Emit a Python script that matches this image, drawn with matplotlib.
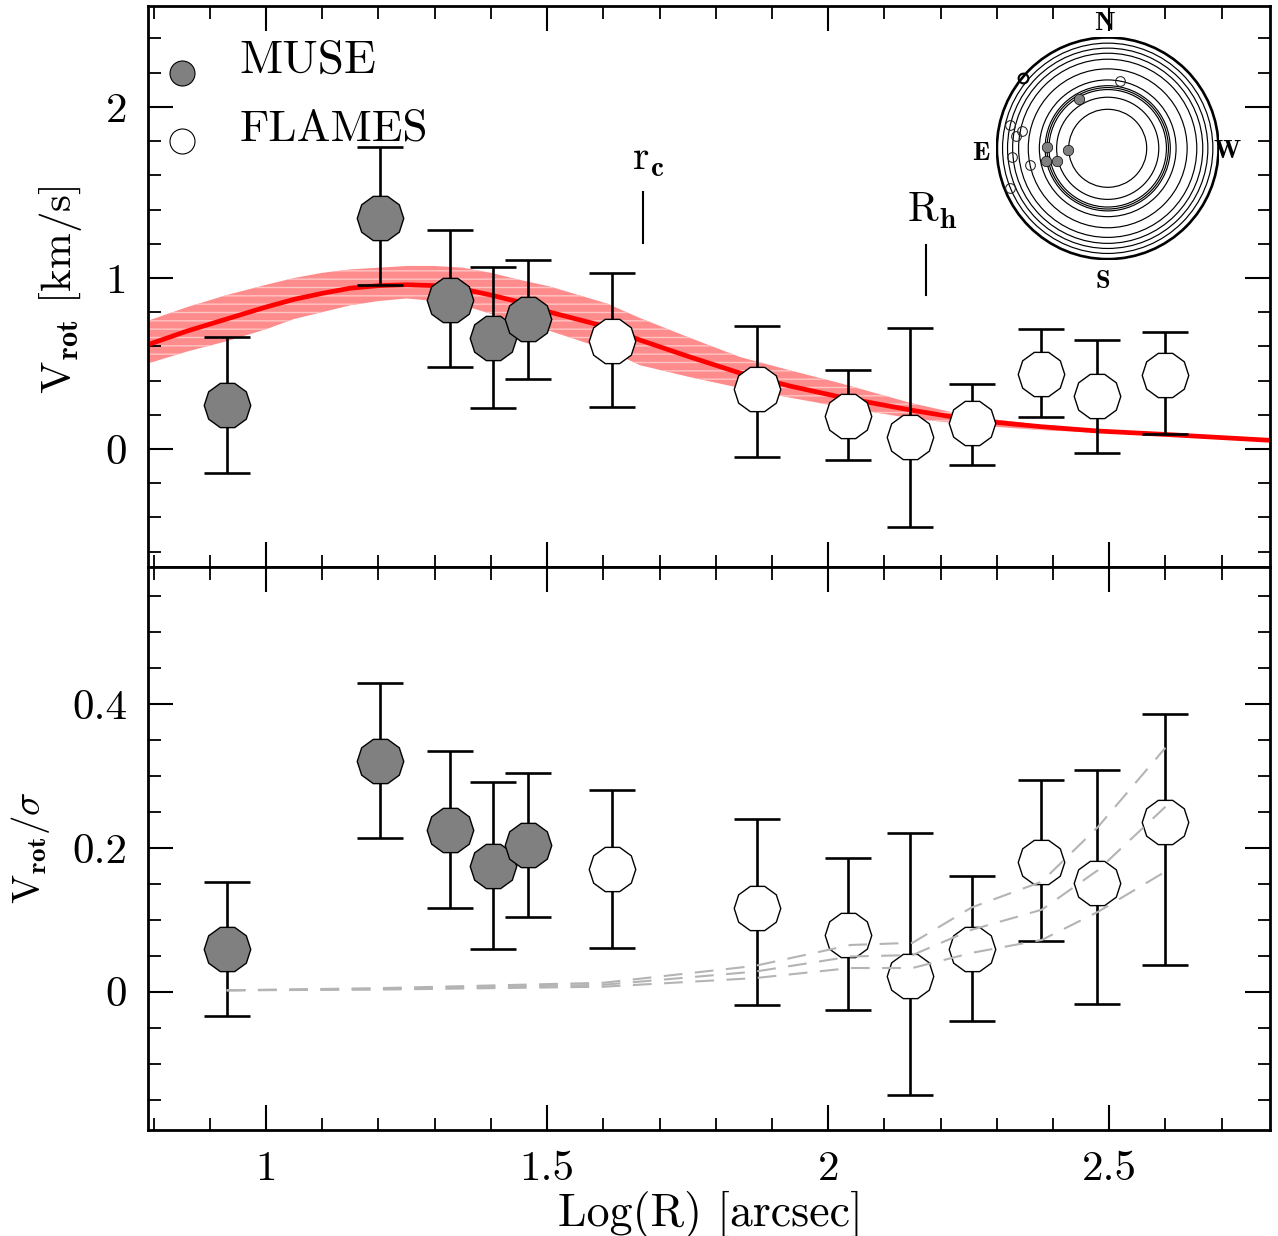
import warnings, logging
import matplotlib
matplotlib.use("Agg")
import matplotlib.pyplot as plt
from matplotlib.ticker import MultipleLocator
from matplotlib.patches import Circle
logging.getLogger('matplotlib.mathtext').setLevel(logging.ERROR)
warnings.filterwarnings("ignore")

plt.rcParams['font.family'] = ['cmr10', 'DejaVu Serif']
plt.rcParams['mathtext.fontset'] = 'cm'
plt.rcParams['axes.formatter.use_mathtext'] = True
plt.rcParams['axes.unicode_minus'] = False
plt.rcParams['hatch.linewidth'] = 1.0

# ---- data ----
log_r = [0.931, 1.203, 1.327, 1.404, 1.466, 1.616, 1.874, 2.036, 2.146, 2.255, 2.379, 2.479, 2.600]
n_muse = 5

vrot = [0.26, 1.35, 0.87, 0.65, 0.76, 0.63, 0.35, 0.19, 0.07, 0.15, 0.44, 0.31, 0.43]
vrot_hi = [0.655, 1.766, 1.28, 1.064, 1.105, 1.03, 0.72, 0.46, 0.708, 0.38, 0.70, 0.637, 0.684]
vrot_lo = [-0.14, 0.96, 0.48, 0.24, 0.41, 0.245, -0.047, -0.064, -0.456, -0.094, 0.187, -0.023, 0.088]

ratio = [0.06, 0.32, 0.225, 0.174, 0.204, 0.17, 0.117, 0.079, 0.022, 0.06, 0.18, 0.151, 0.236]
ratio_hi = [0.153, 0.429, 0.335, 0.292, 0.304, 0.28, 0.24, 0.186, 0.221, 0.161, 0.294, 0.308, 0.386]
ratio_lo = [-0.033, 0.214, 0.117, 0.06, 0.104, 0.061, -0.018, -0.026, -0.143, -0.04, 0.071, -0.017, 0.0375]

model_x = [0.79, 0.86, 0.93, 1.00, 1.05, 1.10, 1.15, 1.20, 1.25, 1.30, 1.35, 1.40, 1.45, 1.505,
           1.607, 1.665, 1.754, 1.843, 1.932, 2.021, 2.146, 2.254, 2.38, 2.48, 2.60, 2.79]
model_y = [0.61, 0.69, 0.76, 0.83, 0.875, 0.91, 0.94, 0.955, 0.96, 0.955, 0.935, 0.90, 0.86, 0.80,
           0.713, 0.637, 0.538, 0.444, 0.368, 0.304, 0.228, 0.17, 0.13, 0.105, 0.085, 0.05]
model_up = [0.75, 0.83, 0.90, 0.96, 1.00, 1.03, 1.05, 1.06, 1.07, 1.07, 1.06, 1.03, 0.99, 0.95,
            0.85, 0.766, 0.65, 0.538, 0.46, 0.385, 0.27, 0.19, 0.14, 0.115, 0.09, 0.055]
model_dn = [0.50, 0.57, 0.63, 0.70, 0.76, 0.80, 0.84, 0.865, 0.88, 0.865, 0.84, 0.79, 0.74, 0.69,
            0.58, 0.49, 0.42, 0.357, 0.30, 0.247, 0.18, 0.14, 0.11, 0.095, 0.075, 0.045]

dash_x = [0.93, 1.20, 1.60, 1.87, 2.04, 2.15, 2.255, 2.38, 2.48, 2.60]
dash_a = [0.002, 0.005, 0.0125, 0.036, 0.065, 0.068, 0.117, 0.153, 0.229, 0.339]
dash_b = [0.002, 0.004, 0.0097, 0.028, 0.049, 0.051, 0.086, 0.114, 0.169, 0.257]
dash_c = [0.002, 0.003, 0.007, 0.019, 0.033, 0.033, 0.054, 0.072, 0.111, 0.167]

ring_radii = [0.352, 0.461, 0.530, 0.548, 0.565, 0.617, 0.717, 0.804, 0.858, 0.904, 0.949, 1.0]
map_muse_x = [-0.545, -0.557, -0.455, -0.355, -0.262]
map_muse_y = [0.015, -0.111, -0.117, -0.018, 0.449]
map_flames_x = [0.108, -0.883, -0.774, -0.825, -0.864, -0.705, -0.883]
map_flames_y = [0.608, 0.214, 0.160, 0.111, -0.075, -0.154, -0.355]
map_ref_x = [-0.765]
map_ref_y = [0.636]

W, H = 1278, 1236
GREY = '#808080'
fig = plt.figure(figsize=(W / 100, H / 100), dpi=100, facecolor='white')


def axes_px(x0, y0, x1, y1):
    return fig.add_axes([x0 / W, 1 - y1 / H, (x1 - x0) / W, (y1 - y0) / H])


ax1 = axes_px(148, 6, 1270, 567)
ax2 = axes_px(148, 567, 1270, 1130)

for ax in (ax1, ax2):
    ax.set_xlim(0.79, 2.786)
    ax.xaxis.set_major_locator(MultipleLocator(0.5))
    ax.xaxis.set_minor_locator(MultipleLocator(0.1))
    ax.tick_params(which='major', direction='in', top=True, right=True, length=18, width=1.5,
                   labelsize=31, pad=15)
    ax.tick_params(which='minor', direction='in', top=True, right=True, length=9, width=1.3)
    for s in ax.spines.values():
        s.set_linewidth(2.0)

ax1.set_ylim(-0.69, 2.59)
ax1.yaxis.set_major_locator(MultipleLocator(1))
ax1.yaxis.set_minor_locator(MultipleLocator(0.2))
ax1.tick_params(axis='x', labelbottom=False)
ax1.set_yticks([0, 1, 2], ['0', '1', '2'])

ax2.set_ylim(-0.192, 0.59)
ax2.yaxis.set_major_locator(MultipleLocator(0.2))
ax2.yaxis.set_minor_locator(MultipleLocator(0.05))
ax2.set_yticks([0, 0.2, 0.4], ['0', '0.2', '0.4'])
ax2.set_xticks([1, 1.5, 2, 2.5], ['1', '1.5', '2', '2.5'])

# model band and curve
ax1.fill_between(model_x, model_dn, model_up, facecolor='#ff8c8c', edgecolor='#ffc4c4',
                 hatch='--', linewidth=0, zorder=1)
ax1.plot(model_x, model_y, color='#ff0000', lw=3.4, zorder=2, solid_capstyle='butt')


def points(ax, y, hi, lo):
    for i, (x, yy, h, l) in enumerate(zip(log_r, y, hi, lo)):
        face = GREY if i < n_muse else 'white'
        ax.plot([x, x], [l, h], color='black', lw=1.9, zorder=3, solid_capstyle='butt')
        for end in (l, h):
            ax.plot([x], [end], marker='_', ms=32.5, mew=1.9, color='black', zorder=3)
        ax.plot([x], [yy], marker=(10, 0, 18), ms=33.5, mfc=face, mec='black', mew=1.0,
                ls='none', zorder=4 + i * 0.01)


points(ax1, vrot, vrot_hi, vrot_lo)
points(ax2, ratio, ratio_hi, ratio_lo)

for d in (dash_a, dash_b, dash_c):
    ax2.plot(dash_x, d, color='#b4b4b4', lw=1.5, dashes=(9, 6), zorder=6)

# legend
ax1.plot([0.851], [2.20], marker='o', ms=18, mfc=GREY, mec='black', mew=0.8, ls='none')
ax1.plot([0.851], [1.80], marker='o', ms=18, mfc='white', mec='black', mew=0.8, ls='none')
ax1.text(0.953, 2.27, 'MUSE', fontsize=34, ha='left', va='center')
ax1.text(0.953, 1.868, 'FLAMES', fontsize=32.5, ha='left', va='center', zorder=2)

# radius markers
ax1.plot([1.671, 1.671], [1.205, 1.503], color='black', lw=1.5)
ax1.plot([2.174, 2.174], [0.90, 1.193], color='black', lw=1.5)
ax1.text(1.68, 1.69, r'$\mathrm{r}_{\mathbf{c}}$', fontsize=30, ha='center', va='center')
ax1.text(2.185, 1.39, r'$\mathrm{R}_{\mathbf{h}}$', fontsize=30, ha='center', va='center')

# labels
fig.text(710 / W, 1 - 1214 / H, 'Log(R) [arcsec]', fontsize=33, ha='center', va='center')
fig.text(60 / W, 1 - 290 / H, r'$\mathrm{V}_{\mathbf{rot}}$ [km/s]', fontsize=31, rotation=90, ha='center', va='center')
fig.text(30 / W, 1 - 848 / H, r'$\mathrm{V}_{\mathbf{rot}}/\sigma$', fontsize=28, rotation=90, ha='center', va='center')

# position map
cx, cy, R = 1107.7, 148.3, 111.5
m = axes_px(cx - R, cy - R, cx + R, cy + R)
m.set_xlim(-111.5 / 110.8, 111.5 / 110.8)
m.set_ylim(-111.5 / 110.8, 111.5 / 110.8)
m.axis('off')
m.patch.set_alpha(0)
for r in ring_radii:
    m.add_patch(Circle((0, 0), r, fc='none', ec='black', lw=1.9 if r == 1.0 else 0.85))
m.plot(map_muse_x, map_muse_y, 'o', ms=7.5, mfc=GREY, mec='black', mew=0.5)
m.plot(map_flames_x, map_flames_y, 'o', ms=7, mfc='none', mec='#222222', mew=0.75)
m.plot(map_ref_x, map_ref_y, 'o', ms=7, mfc='none', mec='black', mew=1.5)
for s, px, py in [('N', 1104, 24), ('S', 1103, 282), ('E', 981, 153), ('W', 1227, 152)]:
    fig.text(px / W, 1 - py / H, s, fontsize=19, family='cmb10', ha='center', va='center')

fig.savefig('out.png', dpi=100)
